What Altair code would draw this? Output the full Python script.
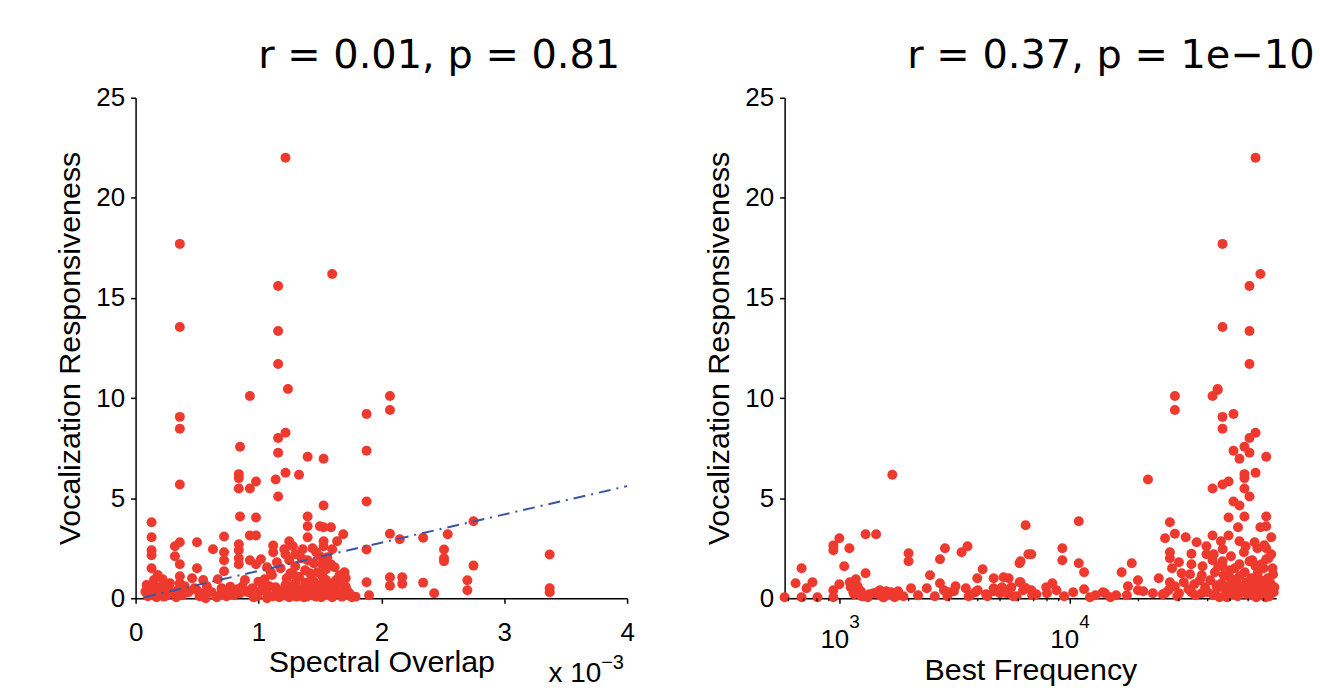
import altair as alt
import pandas as pd

# ---------------- data ----------------
# Left panel: spectral overlap (x 1e-3) vs vocalization responsiveness
overlap_x = [
    1.22, 0.36, 1.60, 1.16, 0.36, 1.16, 1.16, 1.24, 0.36, 0.36, 0.93, 1.88, 1.88, 1.88, 1.88, 1.88, 1.90,
    0.36, 0.85, 0.84, 0.84, 0.84, 0.93, 0.98, 1.16, 1.22, 1.16, 1.14, 1.22, 1.33, 1.16, 1.40, 1.53, 1.53,
    0.85, 0.98, 1.40, 1.40, 0.13, 0.13, 0.13, 0.13, 0.13, 0.36, 0.32, 0.32, 0.36, 0.36, 0.50, 0.50, 0.63,
    0.72, 0.72, 0.72, 0.72, 0.84, 0.84, 0.84, 0.84, 0.93, 0.98, 0.93, 0.98, 1.02, 1.07, 1.12, 1.12, 1.21,
    1.25, 1.28, 1.30, 1.36, 1.40, 1.40, 1.50, 1.53, 1.59, 1.53, 1.53, 1.64, 1.69, 1.60, 1.52, 1.59, 1.70,
    1.70,
    2.07, 2.07, 2.07, 2.15, 2.34, 2.54, 2.75, 2.51, 2.51, 2.51, 2.75, 3.37, 3.37, 3.37, 2.07, 2.07, 2.17,
    2.17, 2.34, 2.43, 2.70, 2.70,
    0.08, 0.09, 0.15, 0.18, 0.19, 0.23, 0.21, 0.28, 0.30, 0.36, 0.37, 0.46, 0.48, 0.55, 0.56, 0.57, 0.67,
    0.69, 0.77, 0.77, 0.85, 0.89, 0.90, 0.96, 1.00, 1.04, 1.07, 1.07, 1.11, 1.15, 1.18, 1.22, 1.23, 1.26,
    1.26, 1.30, 1.31, 1.33, 1.36, 1.38, 1.39, 1.42, 1.43, 1.46, 1.47, 1.50, 1.53, 1.55, 1.58, 1.62, 1.65,
    1.68, 1.71, 1.74, 1.79, 1.71,
    1.12, 1.14, 1.17, 1.19, 1.21, 1.24, 1.25, 1.27, 1.29, 1.32, 1.34, 1.37, 1.40, 1.41, 1.44, 1.45, 1.48,
    1.49, 1.51, 1.52, 1.54, 1.56, 1.57, 1.60, 1.61, 1.63, 1.66, 1.69, 1.72, 1.76,
    0.10, 0.12, 0.14, 0.16, 0.17, 0.20, 0.22, 0.25, 0.27, 0.33, 0.35, 0.38, 0.40, 0.43, 0.50, 0.52, 0.58,
    0.62, 0.66, 0.70, 0.74, 0.80, 0.83, 0.87, 0.92, 0.95, 0.99, 1.02, 1.05, 1.09,
    1.18, 1.25, 1.30, 1.35, 1.38, 1.45, 1.48, 1.22, 1.28, 1.50, 1.55, 1.62, 1.66, 1.10, 1.15, 1.44, 1.47,
    1.56,
]
overlap_y = [
    22.0, 17.7, 16.2, 15.6, 13.55, 13.35, 11.7, 10.45, 9.06, 8.47, 10.1, 9.2, 7.37, 4.83, 2.44, 0.8, 0.15,
    5.68, 7.57, 6.2, 6.0, 5.48, 5.48, 5.83, 8.0, 8.27, 7.27, 5.93, 6.27, 6.17, 5.08, 7.07, 6.97, 4.63,
    4.08, 4.03, 4.08, 3.6, 3.8, 3.05, 2.4, 2.15, 1.5, 2.8, 2.6, 2.1, 1.7, 1.1, 2.8, 1.5, 2.45,
    3.08, 2.3, 1.9, 1.35, 2.7, 2.4, 2.0, 1.7, 3.13, 3.13, 1.9, 1.7, 1.95, 1.55, 2.63, 2.3, 2.45,
    2.85, 2.6, 2.2, 2.45, 3.05, 1.9, 3.6, 3.55, 3.55, 2.85, 2.6, 2.85, 3.2, 2.45, 1.7, 1.7, 1.3,
    1.05,
    10.1, 9.4, 3.22, 2.95, 3.02, 3.2, 3.85, 2.43, 2.0, 1.85, 1.63, 2.18, 0.5, 0.3, 1.05, 0.62, 1.05,
    0.72, 0.78, 0.25, 0.9, 0.4,
    0.33, 0.66, 0.91, 1.16, 0.25, 0.08, 0.58, 0.75, 0.25, 0.75, 0.33, 1.0, 0.5, 0.91, 0.25, 0.0, 0.95,
    0.17, 0.58, 0.38, 0.25, 0.91, 0.33, 0.05, 0.83, 0.58, 0.25, 0.0, 1.16, 0.41, 0.25, 0.66, 1.0, 1.25,
    0.25, 0.75, 0.08, 1.08, 0.41, 0.79, 0.08, 1.25, 0.91, 0.41, 0.08, 0.66, 0.25, 0.91, 0.5, 0.25, 0.75,
    0.08, 0.58, 0.25, 0.08, 1.0,
    0.1, 0.55, 0.05, 0.35, 0.15, 0.45, 0.05, 0.6, 0.3, 0.5, 0.2, 0.05, 0.35, 0.6, 0.15, 0.85, 0.3,
    0.5, 0.05, 1.1, 0.4, 0.2, 0.7, 0.05, 0.45, 0.9, 0.3, 0.15, 0.4, 0.05,
    0.1, 0.45, 0.2, 0.6, 0.05, 0.4, 0.95, 0.15, 0.5, 0.05, 0.45, 0.15, 0.6, 0.3, 0.4, 0.1, 0.6,
    0.3, 0.05, 0.5, 0.1, 0.15, 0.45, 0.6, 0.3, 0.5, 0.1, 0.4, 0.95, 0.6,
    1.5, 1.9, 1.6, 2.0, 1.4, 1.75, 1.3, 2.2, 1.2, 2.1, 1.45, 1.55, 1.15, 1.3, 1.8, 2.5, 2.3,
    2.05,
]
fit_x = [0.07, 4.0]
fit_y = [0.05, 5.6]

# Right panel: best frequency (Hz, log axis) vs vocalization responsiveness
bf_x = [
    64600, 46400, 67800, 60800, 46400, 60800, 60800, 44200,
    28800, 28800, 42000, 44200, 46400, 51800, 46400, 64600, 60800, 57800, 60800, 51800, 55000, 71900,
    57800, 57800, 64600, 22000, 42000, 46400, 49300, 57800, 60800, 51800, 55000, 49300, 57800, 71900,
    27400, 71900, 67800, 54200, 11000, 6460, 28800, 26100, 32100, 35800, 42000, 45700, 49300, 55000,
    65800, 71900, 75600, 75600, 71900, 27400, 27400, 34000, 34000, 39500, 39500, 42000, 46400, 46400,
    55000, 60800, 64600, 6840, 6140, 9330, 9330, 11000, 11600, 16900, 18700, 19900, 19900, 24500,
    8440, 7940, 10400, 11600, 13000, 14300, 15100, 17800, 23100, 26100, 27400, 30800, 28800, 30000,
    35000, 37700, 34000, 37700, 43600, 49800,
    578, 645, 685, 685, 720, 764, 803, 942, 942, 1000, 942, 942, 1000, 1050, 1105, 1300, 1300, 1445,
    1700, 2000, 2000, 2480, 2740, 2880, 2740, 3400, 3610, 3980, 4200, 4690, 4690, 4690, 5180, 5450,
    6080, 6080, 6460, 6640, 6140, 6460, 6840, 8000,
    1110, 1120, 1160, 1180, 1240, 1280, 1330, 1410, 1460, 1510, 1560, 1600, 1640, 1680, 1740, 1790,
    2850, 2950, 3150, 3550, 3650, 3900, 4350, 5100, 5350, 5700, 6300, 6900,
    40000, 41000, 42500, 43000, 44000, 45000, 46000, 47000, 48000, 49000, 50000, 51000, 52000, 53000,
    54000, 55000, 56000, 57000, 58000, 59000, 60000, 61000, 62000, 63000, 64000, 65000, 66000, 67000,
    68000, 69000, 70000, 71000, 72000, 73000, 74000, 75000, 76000, 77000, 78000, 44500, 50500, 57500,
    62500, 68500, 73500, 76500, 39000, 37000, 35500, 33000, 31500, 29500, 27000, 25500, 48500, 53500,
    59500, 66500, 71500, 77500, 46500, 52500, 64000, 70500, 58500, 42500, 38000, 33500, 30000, 28000,
    2200, 2400, 2600, 3000, 3200, 3700, 4000, 4400, 5000, 5600, 5900, 7200, 8800, 9500, 12300, 14000,
    16000, 18000, 21000, 1150, 1200, 1250, 1350, 1500, 1550, 1650, 1800, 1900, 2050,
]
bf_y = [
    22.0, 17.7, 16.2, 15.6, 13.55, 13.35, 11.7, 10.45,
    10.1, 9.4, 10.1, 10.4, 9.06, 9.2, 8.47, 8.27, 8.0, 7.57, 7.27, 7.37, 6.97, 7.07,
    6.2, 6.0, 6.27, 5.93, 5.48, 5.68, 5.83, 5.48, 5.08, 4.83, 4.63, 4.03, 4.08, 4.08,
    3.8, 3.6, 3.55, 3.55, 3.85, 3.65, 3.22, 3.0, 3.05, 2.8, 3.13, 2.85, 3.13, 2.85,
    2.5, 2.5, 3.05, 2.2, 1.95, 2.3, 2.0, 2.22, 1.7, 2.6, 2.2, 1.9, 1.85, 1.6,
    1.7, 1.85, 1.6, 2.2, 1.85, 2.5, 1.9, 1.75, 1.3, 1.3, 1.75, 0.9, 0.4, 1.0,
    0.75, 0.55, 0.3, 0.45, 0.15, 0.25, 0.05, 0.15, 0.25, 0.25, 0.8, 1.25, 0.6, 0.25,
    0.7, 1.15, 0.3, 0.25, 0.65, 1.05,
    0.05, 0.75, 1.5, 0.05, 0.5, 0.8, 0.05, 2.64, 2.4, 3.0, 0.4, 0.05, 0.7, 1.6, 2.5, 1.25, 3.2, 3.2,
    6.17, 2.25, 1.85, 1.15, 1.95, 2.5, 0.75, 2.3, 2.6, 1.0, 1.45, 1.0, 0.5, 0.35, 1.05, 1.0,
    1.75, 0.8, 0.5, 2.2, 0.8, 0.5, 0.4, 0.25,
    0.8, 0.55, 0.2, 0.95, 0.35, 0.1, 0.05, 0.25, 0.3, 0.15, 0.05, 0.35, 0.2, 0.3, 0.05, 0.25,
    0.4, 0.1, 0.35, 0.5, 0.1, 0.3, 0.2, 0.55, 0.25, 0.1, 0.4, 0.15,
    0.3, 0.9, 0.15, 1.3, 0.5, 0.05, 0.75, 1.15, 0.35, 0.6, 1.4, 0.2, 0.9, 0.45,
    0.1, 1.1, 0.6, 0.3, 1.3, 0.8, 0.15, 0.5, 1.0, 0.35, 0.7, 0.05, 1.25, 0.45,
    0.9, 0.2, 1.5, 0.6, 0.3, 1.0, 0.1, 0.75, 0.4, 1.2, 0.55, 1.6, 2.1, 2.3,
    1.9, 1.7, 2.0, 1.5, 0.55, 0.9, 0.15, 0.45, 0.8, 0.1, 0.4, 0.2, 0.05, 0.7,
    0.25, 0.85, 0.05, 0.3, 2.45, 1.5, 2.8, 2.65, 2.6, 2.2, 1.6, 1.2, 1.8, 1.5,
    0.15, 0.5, 0.1, 0.3, 0.6, 0.15, 0.4, 0.1, 0.25, 0.55, 0.1, 0.2, 0.4, 0.1, 0.05, 0.3,
    0.15, 0.6, 0.35, 0.3, 0.6, 0.1, 0.2, 0.4, 0.05, 0.25, 0.35, 0.1, 0.5,
]

left_ticks = [0, 1, 2, 3, 4]
y_ticks = [0, 5, 10, 15, 20, 25]
bf_major = [1000, 10000]
bf_exponents = ["3", "4"]
bf_minor = [600, 700, 800, 900, 2000, 3000, 4000, 5000, 6000, 7000, 8000, 9000,
            20000, 30000, 40000, 50000, 60000, 70000]

left_title = "r = 0.01, p = 0.81"
right_title = "r = 0.37, p = 1e\u221210"
y_label = "Vocalization Responsiveness"
left_xlabel = "Spectral Overlap"
right_xlabel = "Best Frequency"
mult_base = "x 10"
mult_power = "\u22123"

# ---------------- styling ----------------
RED = "#ee3a2e"
BLUE = "#3a55a6"
W, H = 493, 502
SANS = "Liberation Sans"
LAB = 26
TIT = 30.5
PT = 100

def yaxis():
    return alt.Axis(values=y_ticks, title=y_label, grid=False, labelFontSize=LAB, titleFontSize=TIT,
                    labelFont=SANS, titleFont=SANS, titleFontWeight="normal", labelColor="black",
                    titleColor="black", domainColor="black", tickColor="black", domainWidth=1.5,
                    tickWidth=1.5, tickSize=5, labelPadding=6, titlePadding=10, labelFlush=False)

left_df = pd.DataFrame({"x": overlap_x, "y": overlap_y})
fit_df = pd.DataFrame({"x": fit_x, "y": fit_y})
right_df = pd.DataFrame({"x": bf_x, "y": bf_y})
minor_df = pd.DataFrame({"x": bf_minor})
exp_df = pd.DataFrame({"x": bf_major, "e": bf_exponents})

xs_left = alt.Scale(domain=[0, 4], nice=False, zero=False)
ys = alt.Scale(domain=[0, 25], nice=False)
xs_right = alt.Scale(type="log", domain=[578, 79400], nice=False)

left_pts = alt.Chart(left_df).mark_circle(size=PT, color=RED, opacity=1).encode(
    x=alt.X("x:Q", scale=xs_left,
            axis=alt.Axis(values=left_ticks, title=left_xlabel, grid=False, labelFontSize=LAB,
                          titleFontSize=TIT, labelFont=SANS, titleFont=SANS, titleFontWeight="normal",
                          labelColor="black", titleColor="black", domainColor="black",
                          tickColor="black", domainWidth=1.5, tickWidth=1.5, tickSize=5,
                          labelPadding=16, titlePadding=2, format="d", labelFlush=False)),
    y=alt.Y("y:Q", scale=ys, axis=yaxis()),
)
fit_line = alt.Chart(fit_df).mark_line(color=BLUE, strokeWidth=2, strokeDash=[12, 6, 2, 6]).encode(
    x=alt.X("x:Q", scale=xs_left), y=alt.Y("y:Q", scale=ys))
mult_txt = alt.Chart(pd.DataFrame({"t": [mult_base]})).mark_text(
    font=SANS, fontSize=28, align="right", baseline="alphabetic", color="black").encode(
    x=alt.value(467), y=alt.value(586), text="t:N")
mult_exp = alt.Chart(pd.DataFrame({"t": [mult_power]})).mark_text(
    font=SANS, fontSize=20, align="left", baseline="alphabetic", color="black").encode(
    x=alt.value(467), y=alt.value(573), text="t:N")

left = alt.layer(left_pts, fit_line, mult_txt, mult_exp).properties(
    width=W, height=H,
    title=alt.TitleParams(text=left_title, anchor="start", frame="group", dx=123, font="DejaVu Sans",
                          fontSize=40, fontWeight="normal", color="black", baseline="alphabetic",
                          offset=-23))

right_pts = alt.Chart(right_df).mark_circle(size=PT, color=RED, opacity=1).encode(
    x=alt.X("x:Q", scale=xs_right,
            axis=alt.Axis(values=bf_major, title=right_xlabel, grid=False, labelFontSize=LAB,
                          titleFontSize=TIT, labelFont=SANS, titleFont=SANS, titleFontWeight="normal",
                          labelColor="black", titleColor="black", domainColor="black",
                          tickColor="black", domainWidth=1.5, tickWidth=1.5, tickSize=5,
                          labelPadding=23, titlePadding=4, labelExpr="'10'", labelOffset=-5,
                          labelFlush=False)),
    y=alt.Y("y:Q", scale=ys, axis=yaxis()),
)
minor_ticks = alt.Chart(minor_df).mark_rule(color="black", strokeWidth=1.2).encode(
    x=alt.X("x:Q", scale=xs_right), y=alt.value(H), y2=alt.value(H + 3))
exps = alt.Chart(exp_df).mark_text(font=SANS, fontSize=19, align="left", baseline="alphabetic",
                                   color="black", dx=10).encode(
    x=alt.X("x:Q", scale=xs_right), y=alt.value(532), text="e:N")

right = alt.layer(right_pts, minor_ticks, exps).properties(
    width=W, height=H,
    title=alt.TitleParams(text=right_title, anchor="start", frame="group", dx=123, font="DejaVu Sans",
                          fontSize=40, fontWeight="normal", color="black", baseline="alphabetic",
                          offset=-23))

chart = alt.hconcat(left, right, spacing=70).configure_view(stroke=None).properties(
    padding={"left": 56, "top": 35, "right": 5, "bottom": 5}, background="white")

chart.save("out.html", embed_options={"renderer": "svg", "actions": False})
